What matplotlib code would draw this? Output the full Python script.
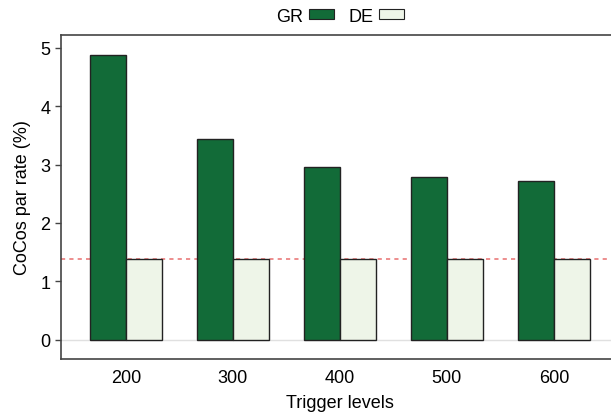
import matplotlib
matplotlib.use("Agg")
import matplotlib.pyplot as plt
import numpy as np
from matplotlib.patches import Patch

categories = ["200", "300", "400", "500", "600"]
gr_values = [4.88, 3.44, 2.96, 2.79, 2.72]
de_values = [1.38, 1.38, 1.38, 1.38, 1.38]
ref_line = 1.38

plt.rcParams['font.family'] = ['Liberation Sans', 'DejaVu Sans']

fig = plt.figure(figsize=(6.11, 4.14), dpi=100)
ax = fig.add_axes([0.0998, 0.1304, 0.9117, 0.7826])

x = np.arange(len(categories))
w = 0.335
green = "#126b38"
light = "#eef5e8"
edge = "#222222"

ax.axhline(0, color="#e0e0e0", lw=1, zorder=0)
ax.axhline(ref_line, color="#ea7a7a", lw=1.2, ls=(0, (2.5, 2.5)), zorder=0.5)
ax.bar(x - w/2, gr_values, w, color=green, edgecolor=edge, lw=1, zorder=2, label="GR")
ax.bar(x + w/2, de_values, w, color=light, edgecolor=edge, lw=1, zorder=2, label="DE")

ax.set_xlim(-0.607, 4.6)
ax.set_ylim(-0.33, 5.22)
ax.set_xticks(x)
ax.set_xticklabels(categories, fontsize=13)
ax.set_yticks([0, 1, 2, 3, 4, 5])
ax.set_yticklabels(["0", "1", "2", "3", "4", "5"], fontsize=13)
ax.tick_params(axis='x', length=0, pad=7)
ax.tick_params(axis='y', length=4, color="#444444", width=1)
for s in ax.spines.values():
    s.set_color("#444444")
    s.set_linewidth(1.2)

ax.set_xlabel("Trigger levels", fontsize=13, labelpad=6)
ax.set_ylabel("CoCos par rate (%)", fontsize=13, labelpad=7)

handles = [Patch(facecolor=green, edgecolor=edge, lw=0.8), Patch(facecolor=light, edgecolor=edge, lw=0.8)]
fig.legend(handles, ["GR", "DE"], loc="center", bbox_to_anchor=(340/611, 1 - 17/414),
           ncol=2, frameon=False, markerfirst=False, fontsize=13,
           handlelength=1.4, handleheight=0.5, handletextpad=0.3, columnspacing=0.8)

fig.savefig("out.png", dpi=100)
